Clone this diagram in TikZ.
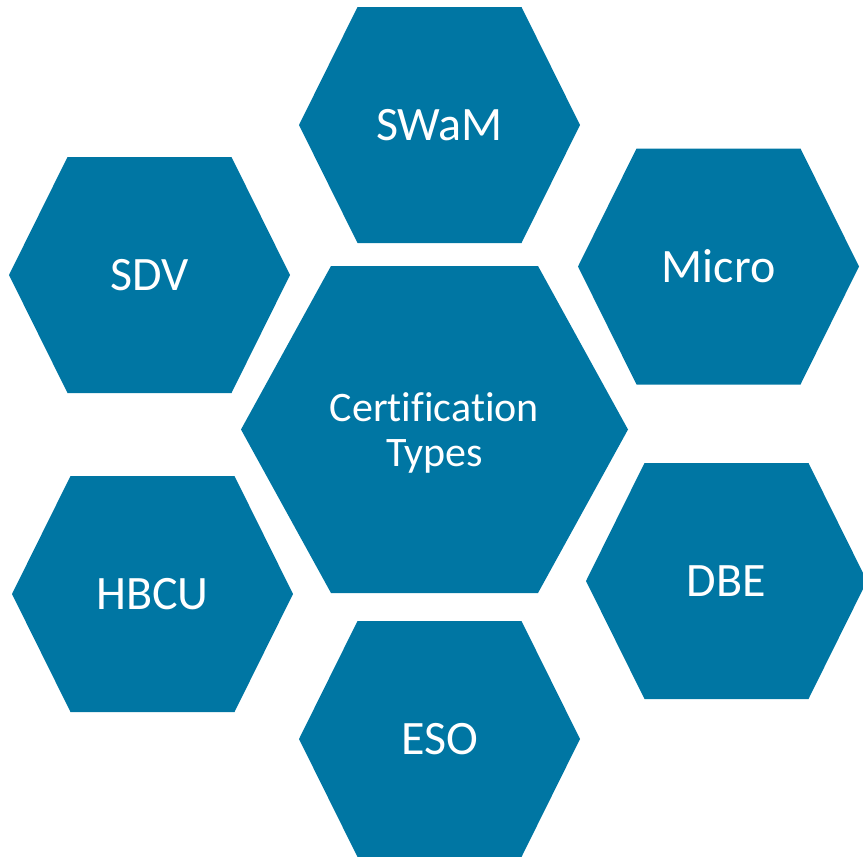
\documentclass[tikz,border=0pt]{standalone}
\usepackage{fontspec}
\setmainfont{Carlito}[Ligatures=CommonOff]
\definecolor{hexblue}{RGB}{0,118,163}
\tikzset{
	hextext/.style={text=white,align=center,font=\fontsize{48}{52}\selectfont},
	midtext/.style={text=white,align=center,font=\fontsize{42}{45}\selectfont,yshift=-3pt},
}
% #1 name, #2 centre, #3 half width, #4 half top edge, #5 half height, #6 style, #7 text
\newcommand{\hexa}[7]{\fill[hexblue,shift={(#2)}] (-#3,0) -- (-#4,-#5) -- (#4,-#5) -- (#3,0) -- (#4,#5) -- (-#4,#5) -- cycle;
	\node[#6] (#1) at (#2) {#7};}
\newcommand{\smallhex}[3]{\hexa{#1}{#2}{140.5}{82}{118}{hextext}{#3}}

\begin{document}
\begin{tikzpicture}[x=1pt,y=-1pt]
    \useasboundingbox (0,0) rectangle (863,857);
    % middle hexagon
    \hexa{types}{434.5,429.5}{193.5}{103.5}{163.5}{midtext}{Certification\\Types}
    
    % ring around it
    \smallhex{swam}{439.5,125}{SWaM}
    \smallhex{micro}{718.5,266.5}{Micro}
    \smallhex{sdv}{149.5,275}{SDV}
    \smallhex{hbcu}{152.5,594}{HBCU}
    \smallhex{dbe}{726.5,581}{DBE}
    \smallhex{eso}{439.5,739}{ESO}
\end{tikzpicture}
\end{document}
